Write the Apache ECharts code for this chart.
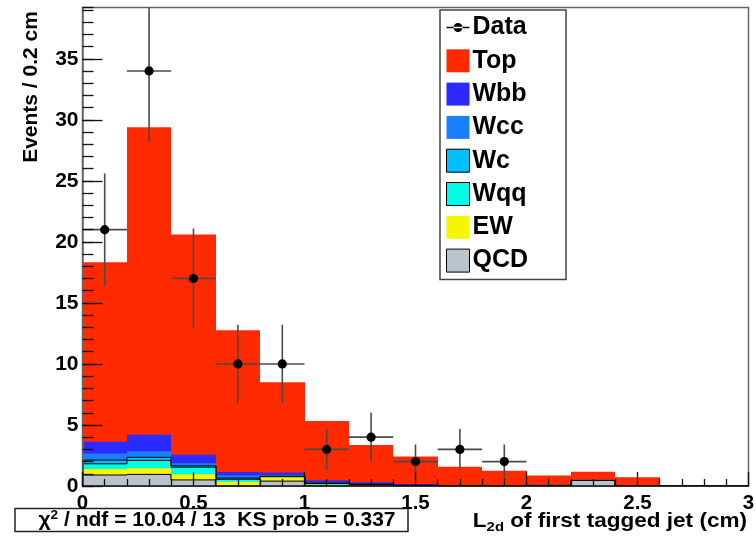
<!DOCTYPE html>
<html>
<head>
<meta charset="utf-8">
<script src="https://cdn.jsdelivr.net/npm/echarts@6/dist/echarts.min.js"></script>
<style>
  html, body { margin: 0; padding: 0; background: #fff; }
  #chart { width: 756px; height: 540px; }
</style>
</head>
<body>
<div id="chart"></div>
<script>
// Bin edges of the L2d histogram (cm), 0.2 cm bins
const binEdges = [0, 0.2, 0.4, 0.6, 0.8, 1.0, 1.2, 1.4, 1.6, 1.8, 2.0, 2.2, 2.4, 2.6, 2.8, 3.0];

// Expected events per bin for each sample
const qcd      = [0.90, 0.95, 0.50, 0.00, 0.40, 0.00, 0.00, 0.00, 0.00, 0.00, 0.00, 0.45, 0.00, 0, 0];
const ew       = [0.50, 0.50, 0.47, 0.35, 0.30, 0.10, 0.10, 0.03, 0.02, 0.00, 0.00, 0.00, 0.00, 0, 0];
const wqq      = [0.42, 0.65, 0.57, 0.20, 0.07, 0.10, 0.03, 0.02, 0.00, 0.00, 0.00, 0.00, 0.00, 0, 0];
const wc       = [0.30, 0.25, 0.11, 0.10, 0.03, 0.05, 0.02, 0.00, 0.00, 0.00, 0.00, 0.00, 0.00, 0, 0];
const wcc      = [0.55, 0.50, 0.22, 0.20, 0.10, 0.08, 0.05, 0.04, 0.02, 0.02, 0.02, 0.02, 0.00, 0, 0];
const wbb      = [0.95, 1.35, 0.68, 0.30, 0.20, 0.15, 0.10, 0.08, 0.03, 0.03, 0.08, 0.05, 0.02, 0, 0];
const topQuark = [14.7, 25.2, 18.05, 11.6, 7.4, 4.85, 3.05, 2.25, 1.50, 1.20, 0.75, 0.65, 0.70, 0, 0];

// Observed data with statistical errors
const dataX   = [0.1, 0.3, 0.5, 0.7, 0.9, 1.1, 1.3, 1.5, 1.7, 1.9];
const dataY   = [21, 34, 17, 10, 10, 3, 4, 2, 3, 2];
const dataErr = [4.6, 5.8, 4.1, 3.2, 3.2, 1.7, 2.0, 1.4, 1.7, 1.4];

// Axis ranges and tick spacing
const xRange = [0, 3];
const xStep = 0.5;
const yRange = [0, 39.2];
const yStep = 5;
const yMinorStep = 1;

const FONT = '"Liberation Sans", Arial, Helvetica, sans-serif';

// Stack layers from bottom to top
const layers = [
  { name: 'QCD', values: qcd,      color: '#b8c3cb', outline: true },
  { name: 'EW',  values: ew,       color: '#f6f600', outline: false },
  { name: 'Wqq', values: wqq,      color: '#00fce4', outline: true },
  { name: 'Wc',  values: wc,       color: '#00bfff', outline: true },
  { name: 'Wcc', values: wcc,      color: '#1a80ff', outline: false },
  { name: 'Wbb', values: wbb,      color: '#2b2bff', outline: false },
  { name: 'Top', values: topQuark, color: '#ff2a00', outline: false }
];

// Cumulative heights, like a stacked histogram
let running = binEdges.slice(1).map(() => 0);
layers.forEach(l => {
  running = running.map((r, i) => r + l.values[i]);
  l.cum = running.slice();
});

function layerRenderer(color, outline) {
  return function (params, api) {
    const lo = api.value(0), hi = api.value(1), top = api.value(2), prev = api.value(3);
    const pLo = api.coord([lo, 0]);
    const pHi = api.coord([hi, top]);
    const x0 = Math.round(pLo[0]), x1 = Math.round(pHi[0]);
    const yb = pLo[1], yt = pHi[1];
    const children = [];
    if (top > 0) {
      children.push({
        type: 'rect',
        shape: { x: x0, y: yt, width: x1 - x0, height: yb - yt },
        style: { fill: color }
      });
    }
    if (outline) {
      const yPrev = api.coord([lo, prev])[1];
      children.push({
        type: 'polyline',
        z2: 10,
        shape: { points: [[x0, yPrev], [x0, yt], [x1, yt]] },
        style: { stroke: '#000', lineWidth: 1, fill: null }
      });
    }
    return { type: 'group', children: children };
  };
}

// Filled layers drawn from the largest cumulative sum down to the smallest
const stackSeries = layers.slice().reverse().map(l => ({
  name: l.name,
  type: 'custom',
  coordinateSystem: 'cartesian2d',
  clip: true,
  itemStyle: { color: l.color },
  renderItem: layerRenderer(l.color, l.outline),
  encode: { x: [0, 1], y: 2 },
  data: l.cum.map((c, i) => [binEdges[i], binEdges[i + 1], c, i > 0 ? l.cum[i - 1] : 0])
}));

const binHalf = (binEdges[1] - binEdges[0]) / 2;

const dataSeries = {
  name: 'Data',
  type: 'custom',
  coordinateSystem: 'cartesian2d',
  clip: true,
  z: 5,
  itemStyle: { color: '#000' },
  encode: { x: 0, y: 1 },
  renderItem: function (params, api) {
    const x = api.value(0), v = api.value(1), e = api.value(2);
    const c = api.coord([x, v]);
    const l = api.coord([x - binHalf, v]);
    const r = api.coord([x + binHalf, v]);
    const up = api.coord([x, v + e]);
    const dn = api.coord([x, v - e]);
    const barStyle = { stroke: '#4a4a4a', lineWidth: 1.6 };
    return {
      type: 'group',
      children: [
        { type: 'line', shape: { x1: l[0], y1: c[1], x2: r[0], y2: c[1] }, style: barStyle },
        { type: 'line', shape: { x1: c[0], y1: up[1], x2: c[0], y2: dn[1] }, style: barStyle },
        { type: 'circle', shape: { cx: c[0], cy: c[1], r: 4.6 }, style: { fill: '#000' } }
      ]
    };
  },
  data: dataX.map((x, i) => [x, dataY[i], dataErr[i]])
};

// Legend marker for the data: a short line with a dot, padded to a square box
const dataIcon = 'path://M0,0h0.01v0.01h-0.01z M0,10.8h23v1.4h-23z M7,11.5a4.5,4.5 0 1,0 9,0a4.5,4.5 0 1,0 -9,0z M23,23h-0.01v-0.01h0.01z';
const boxed = { borderColor: '#000', borderWidth: 1 };

const chart = echarts.init(document.getElementById('chart'), null, { renderer: 'canvas' });
chart.setOption({
  animation: false,
  backgroundColor: '#fff',
  textStyle: { fontFamily: FONT },
  grid: {
    left: 82.5, right: 7.5, top: 7.5, bottom: 54,
    show: true, borderColor: '#666', borderWidth: 1.5, backgroundColor: 'transparent',
    outerBoundsMode: 'none'
  },
  legend: {
    orient: 'vertical',
    left: 440, top: 10,
    itemWidth: 23, itemHeight: 23, itemGap: 8.3,
    padding: [5, 38, 6.5, 6],
    backgroundColor: '#fff',
    borderColor: '#444', borderWidth: 1.5, borderRadius: 0,
    selectedMode: false,
    textStyle: {
      fontFamily: FONT, fontWeight: 'bold', fontSize: 25,
      color: '#000', padding: [0, 0, 0, -2]
    },
    data: [
      { name: 'Data', icon: dataIcon, itemStyle: { color: '#000' } },
      { name: 'Top', icon: 'rect' },
      { name: 'Wbb', icon: 'rect' },
      { name: 'Wcc', icon: 'rect' },
      { name: 'Wc', icon: 'rect', itemStyle: boxed },
      { name: 'Wqq', icon: 'rect', itemStyle: boxed },
      { name: 'EW', icon: 'rect' },
      { name: 'QCD', icon: 'rect', itemStyle: boxed }
    ]
  },
  xAxis: {
    type: 'value',
    min: xRange[0], max: xRange[1], interval: xStep,
    z: 10,
    axisLine: { show: true, onZero: false, lineStyle: { color: '#111', width: 1.5 } },
    axisTick: { show: true, inside: true, length: 14, lineStyle: { color: '#111', width: 1.3 } },
    minorTick: { show: true, splitNumber: 5, length: 7, lineStyle: { color: '#111', width: 1.3 } },
    splitLine: { show: false },
    axisLabel: {
      margin: 7, color: '#000', fontFamily: FONT, fontWeight: 'bold', fontSize: 20.5,
      formatter: v => String(v)
    }
  },
  yAxis: [
    {
      type: 'value',
      min: yRange[0], max: yRange[1], interval: yStep,
      z: 10,
      axisLine: { show: true, lineStyle: { color: '#666', width: 1.5 } },
      axisTick: { show: true, inside: true, length: 20, lineStyle: { color: '#111', width: 1.3 } },
      splitLine: { show: false },
      axisLabel: {
        margin: 4, color: '#000', fontFamily: FONT, fontWeight: 'bold', fontSize: 21,
        showMaxLabel: false
      }
    },
    {
      type: 'value',
      position: 'left', offset: 0,
      min: yRange[0], max: yRange[1], interval: yMinorStep,
      z: 10,
      axisLine: { show: false },
      axisTick: { show: true, inside: true, length: 11, lineStyle: { color: '#111', width: 1.3 } },
      splitLine: { show: false },
      axisLabel: { show: false }
    }
  ],
  graphic: [
    {
      type: 'text',
      x: 31, y: 87, rotation: Math.PI / 2,
      style: {
        text: 'Events / 0.2 cm', fill: '#000',
        font: 'bold 21px ' + FONT, align: 'center', verticalAlign: 'middle'
      }
    },
    {
      type: 'text',
      x: 747, y: 521, scaleX: 1.1,
      style: {
        text: '{a|L}{s|2d}{a| of first tagged jet (cm)}',
        align: 'right', verticalAlign: 'middle',
        rich: {
          a: { fontFamily: FONT, fontWeight: 'bold', fontSize: 20.5, fill: '#000', lineHeight: 26 },
          s: { fontFamily: FONT, fontWeight: 'bold', fontSize: 13.5, fill: '#000', lineHeight: 26, padding: [12, 0, 0, 0] }
        }
      }
    },
    {
      type: 'rect',
      shape: { x: 15, y: 508.5, width: 393, height: 23 },
      style: { fill: '#fff', stroke: '#222', lineWidth: 1.5 }
    },
    {
      type: 'text',
      x: 217, y: 520.5, scaleX: 1.05,
      style: {
        text: '{a|χ}{s|2}{a| / ndf = 10.04 / 13  KS prob = 0.337}',
        align: 'center', verticalAlign: 'middle',
        rich: {
          a: { fontFamily: FONT, fontWeight: 'bold', fontSize: 20, fill: '#000', lineHeight: 24 },
          s: { fontFamily: FONT, fontWeight: 'bold', fontSize: 13, fill: '#000', lineHeight: 24, padding: [0, 0, 10, 0] }
        }
      }
    }
  ],
  series: stackSeries.concat([dataSeries])
});
</script>
</body>
</html>
